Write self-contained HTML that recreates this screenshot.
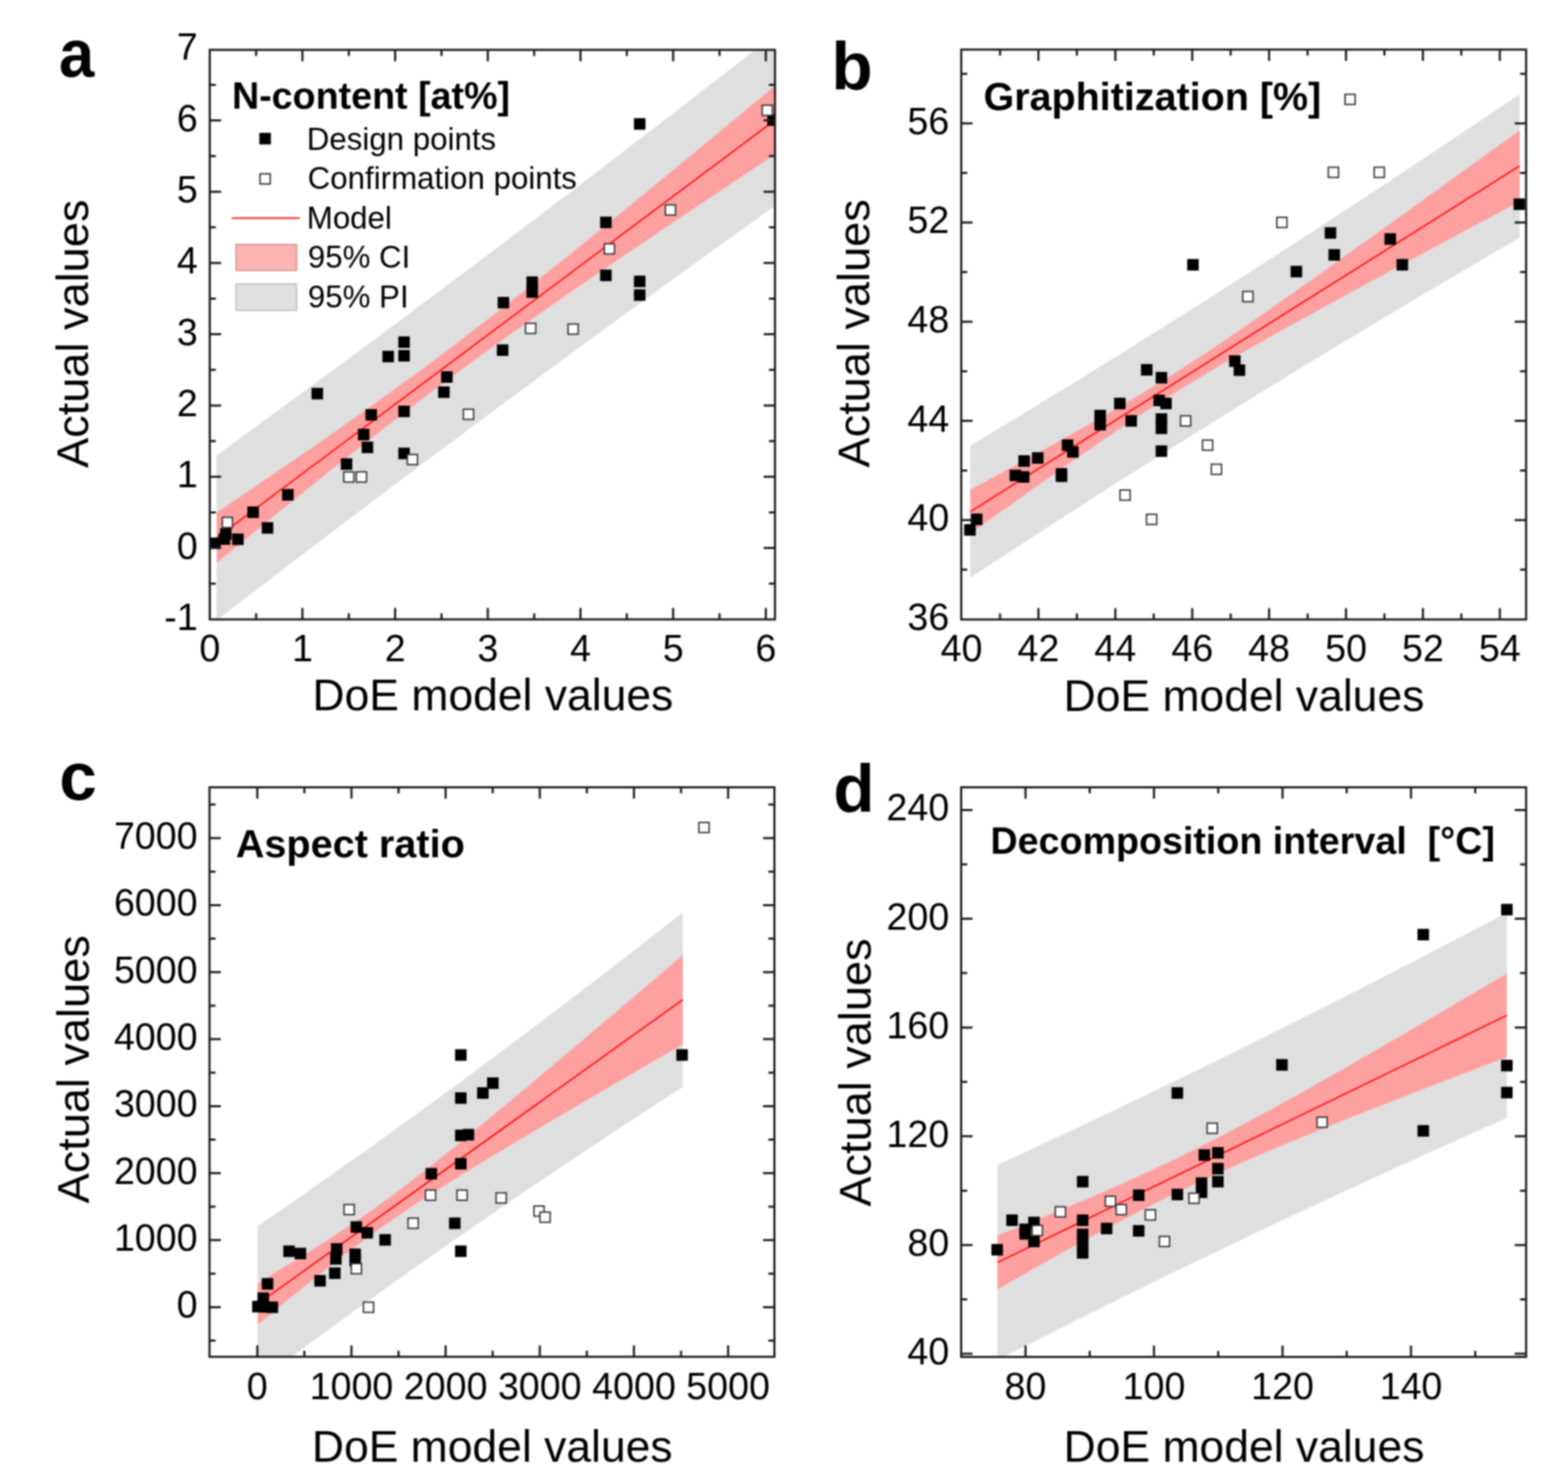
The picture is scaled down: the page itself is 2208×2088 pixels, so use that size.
<!DOCTYPE html>
<html><head><meta charset="utf-8"><title>DoE model vs actual values</title>
<style>html,body{margin:0;padding:0;background:#fff;}svg{display:block;}text{font-family:"Liberation Sans",Arial,sans-serif;fill:#000;}svg{filter:blur(1px);}</style></head><body>
<svg width="2208" height="2088" viewBox="0 0 2208 2088">
<rect width="2208" height="2088" fill="#fff"/>
<clipPath id="ca"><rect x="295.4" y="70.2" width="795.9" height="801.9"/></clipPath>
<g clip-path="url(#ca)">
<polygon points="305,641 318.5,631.2 331.9,621.4 345.4,611.6 358.9,601.8 372.4,591.9 385.8,582.1 399.3,572.2 412.8,562.4 426.3,552.5 439.7,542.6 453.2,532.7 466.7,522.7 480.2,512.8 493.6,502.9 507.1,492.9 520.6,482.9 534.1,472.9 547.5,462.9 561,452.9 574.5,442.9 588,432.8 601.4,422.8 614.9,412.7 628.4,402.6 641.9,392.5 655.3,382.4 668.8,372.3 682.3,362.2 695.8,352 709.2,341.8 722.7,331.7 736.2,321.5 749.7,311.3 763.1,301 776.6,290.8 790.1,280.6 803.6,270.3 817,260 830.5,249.7 844,239.5 857.5,229.1 870.9,218.8 884.4,208.5 897.9,198.1 911.4,187.8 924.8,177.4 938.3,167 951.8,156.6 965.3,146.2 978.7,135.8 992.2,125.3 1005.7,114.9 1019.2,104.4 1032.6,94 1046.1,83.5 1059.6,73 1073.1,62.5 1086.5,52 1100,41.5 1100,283.6 1086.5,293.3 1073.1,302.9 1059.6,312.6 1046.1,322.2 1032.6,331.9 1019.2,341.6 1005.7,351.3 992.2,361 978.7,370.7 965.3,380.5 951.8,390.2 938.3,400 924.8,409.7 911.4,419.5 897.9,429.3 884.4,439.1 870.9,448.9 857.5,458.8 844,468.6 830.5,478.5 817,488.4 803.6,498.3 790.1,508.2 776.6,518.1 763.1,528 749.7,537.9 736.2,547.9 722.7,557.8 709.2,567.8 695.8,577.8 682.3,587.8 668.8,597.8 655.3,607.9 641.9,617.9 628.4,628 614.9,638.1 601.4,648.1 588,658.2 574.5,668.4 561,678.5 547.5,688.6 534.1,698.8 520.6,709 507.1,719.1 493.6,729.3 480.2,739.5 466.7,749.8 453.2,760 439.7,770.2 426.3,780.5 412.8,790.8 399.3,801.1 385.8,811.4 372.4,821.7 358.9,832 345.4,842.3 331.9,852.7 318.5,863.1 305,873.4" fill="#dfdfdf"/>
<polygon points="305,721.8 318.5,712.7 331.9,703.6 345.4,694.4 358.9,685.3 372.4,676.1 385.8,666.9 399.3,657.7 412.8,648.5 426.3,639.2 439.7,629.9 453.2,620.5 466.7,611.2 480.2,601.7 493.6,592.3 507.1,582.7 520.6,573.2 534.1,563.5 547.5,553.8 561,544.1 574.5,534.3 588,524.4 601.4,514.4 614.9,504.4 628.4,494.3 641.9,484.1 655.3,473.8 668.8,463.5 682.3,453.1 695.8,442.7 709.2,432.2 722.7,421.6 736.2,411 749.7,400.3 763.1,389.6 776.6,378.8 790.1,368 803.6,357.2 817,346.3 830.5,335.4 844,324.4 857.5,313.5 870.9,302.5 884.4,291.5 897.9,280.4 911.4,269.4 924.8,258.3 938.3,247.3 951.8,236.2 965.3,225.1 978.7,213.9 992.2,202.8 1005.7,191.7 1019.2,180.5 1032.6,169.4 1046.1,158.2 1059.6,147 1073.1,135.9 1086.5,124.7 1100,113.5 1100,211.6 1086.5,220.6 1073.1,229.5 1059.6,238.5 1046.1,247.5 1032.6,256.5 1019.2,265.5 1005.7,274.5 992.2,283.5 978.7,292.6 965.3,301.6 951.8,310.6 938.3,319.7 924.8,328.8 911.4,337.9 897.9,347 884.4,356.1 870.9,365.3 857.5,374.5 844,383.6 830.5,392.9 817,402.1 803.6,411.4 790.1,420.7 776.6,430.1 763.1,439.5 749.7,448.9 736.2,458.4 722.7,467.9 709.2,477.5 695.8,487.1 682.3,496.8 668.8,506.6 655.3,516.4 641.9,526.4 628.4,536.3 614.9,546.4 601.4,556.5 588,566.7 574.5,577 561,587.3 547.5,597.7 534.1,608.2 520.6,618.7 507.1,629.3 493.6,639.9 480.2,650.6 466.7,661.3 453.2,672.1 439.7,682.9 426.3,693.8 412.8,704.7 399.3,715.6 385.8,726.5 372.4,737.5 358.9,748.5 345.4,759.5 331.9,770.5 318.5,781.6 305,792.6" fill="#ffa0a0"/>
<line x1="305" y1="757.2" x2="1100" y2="162.5" stroke="#ff0000" stroke-width="1.9"/>
<rect x="892.7" y="166.4" width="16.2" height="16.2" fill="#000"/>
<rect x="1080.4" y="161" width="16.2" height="16.2" fill="#000"/>
<rect x="845.1" y="305" width="16.2" height="16.2" fill="#000"/>
<rect x="845.1" y="379.6" width="16.2" height="16.2" fill="#000"/>
<rect x="892.7" y="388.1" width="16.2" height="16.2" fill="#000"/>
<rect x="892.7" y="407.3" width="16.2" height="16.2" fill="#000"/>
<rect x="741.3" y="389.2" width="16.2" height="16.2" fill="#000"/>
<rect x="741.3" y="403.1" width="16.2" height="16.2" fill="#000"/>
<rect x="700.8" y="418" width="16.2" height="16.2" fill="#000"/>
<rect x="560.9" y="473.6" width="16.2" height="16.2" fill="#000"/>
<rect x="560.9" y="492.8" width="16.2" height="16.2" fill="#000"/>
<rect x="538.5" y="493.9" width="16.2" height="16.2" fill="#000"/>
<rect x="438.7" y="546.1" width="16.2" height="16.2" fill="#000"/>
<rect x="621.2" y="522.7" width="16.2" height="16.2" fill="#000"/>
<rect x="617" y="544" width="16.2" height="16.2" fill="#000"/>
<rect x="560.9" y="571.1" width="16.2" height="16.2" fill="#000"/>
<rect x="514.6" y="576" width="16.2" height="16.2" fill="#000"/>
<rect x="504" y="603.7" width="16.2" height="16.2" fill="#000"/>
<rect x="509.3" y="621.8" width="16.2" height="16.2" fill="#000"/>
<rect x="560.9" y="630.3" width="16.2" height="16.2" fill="#000"/>
<rect x="479.9" y="645.3" width="16.2" height="16.2" fill="#000"/>
<rect x="397.3" y="688.6" width="16.2" height="16.2" fill="#000"/>
<rect x="348.3" y="713.1" width="16.2" height="16.2" fill="#000"/>
<rect x="368.6" y="735.2" width="16.2" height="16.2" fill="#000"/>
<rect x="309.9" y="743.9" width="16.2" height="16.2" fill="#000"/>
<rect x="326.9" y="751.2" width="16.2" height="16.2" fill="#000"/>
<rect x="294.4" y="756.9" width="16.2" height="16.2" fill="#000"/>
<rect x="307.9" y="750.9" width="16.2" height="16.2" fill="#000"/>
<rect x="699.7" y="484.9" width="16.2" height="16.2" fill="#000"/>
<rect x="1073.3" y="148.2" width="14.3" height="14.3" fill="#fff" stroke="#333" stroke-width="2"/>
<rect x="936.9" y="288.5" width="14.3" height="14.3" fill="#fff" stroke="#333" stroke-width="2"/>
<rect x="851" y="343.2" width="14.3" height="14.3" fill="#fff" stroke="#333" stroke-width="2"/>
<rect x="740.1" y="455.2" width="14.3" height="14.3" fill="#fff" stroke="#333" stroke-width="2"/>
<rect x="799.9" y="456.2" width="14.3" height="14.3" fill="#fff" stroke="#333" stroke-width="2"/>
<rect x="652.5" y="576.2" width="14.3" height="14.3" fill="#fff" stroke="#333" stroke-width="2"/>
<rect x="573.6" y="639.9" width="14.3" height="14.3" fill="#fff" stroke="#333" stroke-width="2"/>
<rect x="484.1" y="664.4" width="14.3" height="14.3" fill="#fff" stroke="#333" stroke-width="2"/>
<rect x="501.8" y="664.4" width="14.3" height="14.3" fill="#fff" stroke="#333" stroke-width="2"/>
<rect x="313.1" y="728.4" width="14.3" height="14.3" fill="#fff" stroke="#333" stroke-width="2"/>
</g>
<path d="M360.7 872.1v-8.5M360.7 70.2v8.5M425.9 872.1v-16M425.9 70.2v16M491.2 872.1v-8.5M491.2 70.2v8.5M556.4 872.1v-16M556.4 70.2v16M621.7 872.1v-8.5M621.7 70.2v8.5M686.9 872.1v-16M686.9 70.2v16M752.2 872.1v-8.5M752.2 70.2v8.5M817.4 872.1v-16M817.4 70.2v16M882.7 872.1v-8.5M882.7 70.2v8.5M947.9 872.1v-16M947.9 70.2v16M1013.2 872.1v-8.5M1013.2 70.2v8.5M1078.4 872.1v-16M1078.4 70.2v16M295.4 821.7h8.5M1091.3 821.7h-8.5M295.4 771.6h16M1091.3 771.6h-16M295.4 721.4h8.5M1091.3 721.4h-8.5M295.4 671.2h16M1091.3 671.2h-16M295.4 621.1h8.5M1091.3 621.1h-8.5M295.4 570.9h16M1091.3 570.9h-16M295.4 520.7h8.5M1091.3 520.7h-8.5M295.4 470.6h16M1091.3 470.6h-16M295.4 420.4h8.5M1091.3 420.4h-8.5M295.4 370.3h16M1091.3 370.3h-16M295.4 320.1h8.5M1091.3 320.1h-8.5M295.4 269.9h16M1091.3 269.9h-16M295.4 219.8h8.5M1091.3 219.8h-8.5M295.4 169.6h16M1091.3 169.6h-16M295.4 119.5h8.5M1091.3 119.5h-8.5" stroke="#1c1c1c" stroke-width="3.0" fill="none"/>
<rect x="295.4" y="70.2" width="795.9" height="801.9" fill="none" stroke="#1c1c1c" stroke-width="3.0"/>
<text x="295.4" y="930.5" font-size="53" font-weight="normal" text-anchor="middle">0</text>
<text x="425.9" y="930.5" font-size="53" font-weight="normal" text-anchor="middle">1</text>
<text x="556.4" y="930.5" font-size="53" font-weight="normal" text-anchor="middle">2</text>
<text x="686.9" y="930.5" font-size="53" font-weight="normal" text-anchor="middle">3</text>
<text x="817.4" y="930.5" font-size="53" font-weight="normal" text-anchor="middle">4</text>
<text x="947.9" y="930.5" font-size="53" font-weight="normal" text-anchor="middle">5</text>
<text x="1078.4" y="930.5" font-size="53" font-weight="normal" text-anchor="middle">6</text>
<text x="278.5" y="886.9" font-size="53" font-weight="normal" text-anchor="end">-1</text>
<text x="278.5" y="786.6" font-size="53" font-weight="normal" text-anchor="end">0</text>
<text x="278.5" y="686.2" font-size="53" font-weight="normal" text-anchor="end">1</text>
<text x="278.5" y="585.9" font-size="53" font-weight="normal" text-anchor="end">2</text>
<text x="278.5" y="485.6" font-size="53" font-weight="normal" text-anchor="end">3</text>
<text x="278.5" y="385.3" font-size="53" font-weight="normal" text-anchor="end">4</text>
<text x="278.5" y="284.9" font-size="53" font-weight="normal" text-anchor="end">5</text>
<text x="278.5" y="184.6" font-size="53" font-weight="normal" text-anchor="end">6</text>
<text x="278.5" y="84.3" font-size="53" font-weight="normal" text-anchor="end">7</text>
<text x="694.1" y="1000" font-size="62.6" font-weight="normal" text-anchor="middle">DoE model values</text>
<text x="123.8" y="469.9" font-size="63.5" font-weight="normal" text-anchor="middle" transform="rotate(-90 123.8 469.9)">Actual values</text>
<text x="326.7" y="152.9" font-size="53" font-weight="bold" text-anchor="start">N-content [at%]</text>
<text x="82.9" y="107.6" font-size="95" font-weight="bold" text-anchor="start" textLength="49.7" lengthAdjust="spacingAndGlyphs">a</text>
<clipPath id="cb"><rect x="1353.6" y="69.8" width="795.4" height="802.4"/></clipPath>
<g clip-path="url(#cb)">
<polygon points="1366.2,627.5 1379.3,619.6 1392.4,611.7 1405.5,603.8 1418.7,595.9 1431.8,587.9 1444.9,580 1458,572 1471.1,564 1484.2,556 1497.4,547.9 1510.5,539.9 1523.6,531.8 1536.7,523.7 1549.8,515.6 1562.9,507.5 1576,499.4 1589.2,491.2 1602.3,483 1615.4,474.8 1628.5,466.6 1641.6,458.4 1654.7,450.1 1667.9,441.8 1681,433.5 1694.1,425.2 1707.2,416.9 1720.3,408.6 1733.4,400.2 1746.5,391.8 1759.7,383.4 1772.8,375 1785.9,366.6 1799,358.1 1812.1,349.6 1825.2,341.1 1838.3,332.6 1851.5,324.1 1864.6,315.6 1877.7,307 1890.8,298.4 1903.9,289.8 1917,281.2 1930.2,272.6 1943.3,264 1956.4,255.3 1969.5,246.6 1982.6,237.9 1995.7,229.2 2008.8,220.5 2022,211.8 2035.1,203 2048.2,194.3 2061.3,185.5 2074.4,176.7 2087.5,167.9 2100.7,159.1 2113.8,150.2 2126.9,141.4 2140,132.5 2140,334.6 2126.9,342.2 2113.8,349.9 2100.7,357.5 2087.5,365.2 2074.4,372.9 2061.3,380.6 2048.2,388.4 2035.1,396.1 2022,403.9 2008.8,411.6 1995.7,419.4 1982.6,427.2 1969.5,435.1 1956.4,442.9 1943.3,450.7 1930.2,458.6 1917,466.5 1903.9,474.4 1890.8,482.3 1877.7,490.2 1864.6,498.2 1851.5,506.1 1838.3,514.1 1825.2,522.1 1812.1,530.1 1799,538.2 1785.9,546.2 1772.8,554.3 1759.7,562.4 1746.5,570.5 1733.4,578.6 1720.3,586.7 1707.2,594.9 1694.1,603.1 1681,611.3 1667.9,619.5 1654.7,627.7 1641.6,636 1628.5,644.3 1615.4,652.6 1602.3,660.9 1589.2,669.2 1576,677.5 1562.9,685.9 1549.8,694.3 1536.7,702.7 1523.6,711.1 1510.5,719.5 1497.4,728 1484.2,736.5 1471.1,745 1458,753.5 1444.9,762 1431.8,770.5 1418.7,779.1 1405.5,787.7 1392.4,796.3 1379.3,804.9 1366.2,813.5" fill="#dfdfdf"/>
<polygon points="1366.2,689.6 1379.3,682.5 1392.4,675.3 1405.5,668.2 1418.7,661 1431.8,653.9 1444.9,646.7 1458,639.5 1471.1,632.2 1484.2,624.9 1497.4,617.6 1510.5,610.3 1523.6,602.9 1536.7,595.5 1549.8,588 1562.9,580.4 1576,572.8 1589.2,565.1 1602.3,557.2 1615.4,549.3 1628.5,541.3 1641.6,533.2 1654.7,524.9 1667.9,516.5 1681,508.1 1694.1,499.5 1707.2,490.8 1720.3,482 1733.4,473.1 1746.5,464.2 1759.7,455.1 1772.8,446.1 1785.9,437 1799,427.8 1812.1,418.6 1825.2,409.3 1838.3,400.1 1851.5,390.8 1864.6,381.5 1877.7,372.1 1890.8,362.8 1903.9,353.4 1917,344.1 1930.2,334.7 1943.3,325.3 1956.4,315.8 1969.5,306.4 1982.6,297 1995.7,287.6 2008.8,278.1 2022,268.7 2035.1,259.2 2048.2,249.8 2061.3,240.3 2074.4,230.8 2087.5,221.4 2100.7,211.9 2113.8,202.4 2126.9,192.9 2140,183.4 2140,283.7 2126.9,290.7 2113.8,297.7 2100.7,304.7 2087.5,311.8 2074.4,318.8 2061.3,325.8 2048.2,332.9 2035.1,339.9 2022,347 2008.8,354 1995.7,361.1 1982.6,368.2 1969.5,375.3 1956.4,382.3 1943.3,389.4 1930.2,396.5 1917,403.7 1903.9,410.8 1890.8,417.9 1877.7,425.1 1864.6,432.3 1851.5,439.5 1838.3,446.7 1825.2,453.9 1812.1,461.2 1799,468.5 1785.9,475.8 1772.8,483.2 1759.7,490.7 1746.5,498.1 1733.4,505.7 1720.3,513.3 1707.2,521.1 1694.1,528.9 1681,536.8 1667.9,544.8 1654.7,552.9 1641.6,561.2 1628.5,569.6 1615.4,578 1602.3,586.6 1589.2,595.3 1576,604.1 1562.9,613 1549.8,621.9 1536.7,630.9 1523.6,640 1510.5,649.1 1497.4,658.3 1484.2,667.5 1471.1,676.7 1458,686 1444.9,695.3 1431.8,704.6 1418.7,713.9 1405.5,723.3 1392.4,732.6 1379.3,742 1366.2,751.4" fill="#ffa0a0"/>
<line x1="1366.2" y1="720.5" x2="2140" y2="233.5" stroke="#ff0000" stroke-width="1.9"/>
<rect x="1671.8" y="364.7" width="16.2" height="16.2" fill="#000"/>
<rect x="1865.4" y="319.9" width="16.2" height="16.2" fill="#000"/>
<rect x="1870.7" y="350.8" width="16.2" height="16.2" fill="#000"/>
<rect x="1817.4" y="374.3" width="16.2" height="16.2" fill="#000"/>
<rect x="1949.6" y="328.4" width="16.2" height="16.2" fill="#000"/>
<rect x="1966.6" y="364.7" width="16.2" height="16.2" fill="#000"/>
<rect x="2131.4" y="279.4" width="16.2" height="16.2" fill="#000"/>
<rect x="1606.7" y="512.6" width="16.2" height="16.2" fill="#000"/>
<rect x="1627.4" y="523.7" width="16.2" height="16.2" fill="#000"/>
<rect x="1730.8" y="500.3" width="16.2" height="16.2" fill="#000"/>
<rect x="1737.2" y="513.1" width="16.2" height="16.2" fill="#000"/>
<rect x="1624.2" y="555.7" width="16.2" height="16.2" fill="#000"/>
<rect x="1633.8" y="560" width="16.2" height="16.2" fill="#000"/>
<rect x="1568.8" y="560" width="16.2" height="16.2" fill="#000"/>
<rect x="1584.8" y="584.5" width="16.2" height="16.2" fill="#000"/>
<rect x="1541.1" y="577" width="16.2" height="16.2" fill="#000"/>
<rect x="1541.1" y="589.8" width="16.2" height="16.2" fill="#000"/>
<rect x="1627.4" y="581.9" width="16.2" height="16.2" fill="#000"/>
<rect x="1627.4" y="594.9" width="16.2" height="16.2" fill="#000"/>
<rect x="1627.4" y="627.1" width="16.2" height="16.2" fill="#000"/>
<rect x="1495.2" y="618.6" width="16.2" height="16.2" fill="#000"/>
<rect x="1502.7" y="628.2" width="16.2" height="16.2" fill="#000"/>
<rect x="1453.2" y="636.7" width="16.2" height="16.2" fill="#000"/>
<rect x="1434" y="641" width="16.2" height="16.2" fill="#000"/>
<rect x="1421.7" y="661.3" width="16.2" height="16.2" fill="#000"/>
<rect x="1433.4" y="663.4" width="16.2" height="16.2" fill="#000"/>
<rect x="1486.7" y="659.1" width="16.2" height="16.2" fill="#000"/>
<rect x="1486.7" y="662.4" width="16.2" height="16.2" fill="#000"/>
<rect x="1367.3" y="723.1" width="16.2" height="16.2" fill="#000"/>
<rect x="1357.7" y="738" width="16.2" height="16.2" fill="#000"/>
<rect x="1894" y="132.8" width="14.3" height="14.3" fill="#fff" stroke="#333" stroke-width="2"/>
<rect x="1870.5" y="235.5" width="14.3" height="14.3" fill="#fff" stroke="#333" stroke-width="2"/>
<rect x="1935.1" y="235.5" width="14.3" height="14.3" fill="#fff" stroke="#333" stroke-width="2"/>
<rect x="1798" y="306" width="14.3" height="14.3" fill="#fff" stroke="#333" stroke-width="2"/>
<rect x="1750.1" y="410.4" width="14.3" height="14.3" fill="#fff" stroke="#333" stroke-width="2"/>
<rect x="1662.4" y="585.5" width="14.3" height="14.3" fill="#fff" stroke="#333" stroke-width="2"/>
<rect x="1693.3" y="619.6" width="14.3" height="14.3" fill="#fff" stroke="#333" stroke-width="2"/>
<rect x="1705.8" y="653.6" width="14.3" height="14.3" fill="#fff" stroke="#333" stroke-width="2"/>
<rect x="1577.1" y="690" width="14.3" height="14.3" fill="#fff" stroke="#333" stroke-width="2"/>
<rect x="1614.5" y="724.1" width="14.3" height="14.3" fill="#fff" stroke="#333" stroke-width="2"/>
</g>
<path d="M1408.2 872.2v-8.5M1408.2 69.8v8.5M1462.3 872.2v-16M1462.3 69.8v16M1516.4 872.2v-8.5M1516.4 69.8v8.5M1570.6 872.2v-16M1570.6 69.8v16M1624.7 872.2v-8.5M1624.7 69.8v8.5M1678.9 872.2v-16M1678.9 69.8v16M1733 872.2v-8.5M1733 69.8v8.5M1787.1 872.2v-16M1787.1 69.8v16M1841.3 872.2v-8.5M1841.3 69.8v8.5M1895.4 872.2v-16M1895.4 69.8v16M1949.5 872.2v-8.5M1949.5 69.8v8.5M2003.7 872.2v-16M2003.7 69.8v16M2057.8 872.2v-8.5M2057.8 69.8v8.5M2112 872.2v-16M2112 69.8v16M1353.6 802h8.5M2149 802h-8.5M1353.6 732.2h16M2149 732.2h-16M1353.6 662.4h8.5M2149 662.4h-8.5M1353.6 592.6h16M2149 592.6h-16M1353.6 522.7h8.5M2149 522.7h-8.5M1353.6 452.9h16M2149 452.9h-16M1353.6 383.1h8.5M2149 383.1h-8.5M1353.6 313.3h16M2149 313.3h-16M1353.6 243.5h8.5M2149 243.5h-8.5M1353.6 173.7h16M2149 173.7h-16M1353.6 103.9h8.5M2149 103.9h-8.5" stroke="#1c1c1c" stroke-width="3.0" fill="none"/>
<rect x="1353.6" y="69.8" width="795.4" height="802.4" fill="none" stroke="#1c1c1c" stroke-width="3.0"/>
<text x="1354" y="930.8" font-size="53" font-weight="normal" text-anchor="middle">40</text>
<text x="1462.3" y="930.8" font-size="53" font-weight="normal" text-anchor="middle">42</text>
<text x="1570.6" y="930.8" font-size="53" font-weight="normal" text-anchor="middle">44</text>
<text x="1678.9" y="930.8" font-size="53" font-weight="normal" text-anchor="middle">46</text>
<text x="1787.1" y="930.8" font-size="53" font-weight="normal" text-anchor="middle">48</text>
<text x="1895.4" y="930.8" font-size="53" font-weight="normal" text-anchor="middle">50</text>
<text x="2003.7" y="930.8" font-size="53" font-weight="normal" text-anchor="middle">52</text>
<text x="2112" y="930.8" font-size="53" font-weight="normal" text-anchor="middle">54</text>
<text x="1336.8" y="886.8" font-size="53" font-weight="normal" text-anchor="end">36</text>
<text x="1336.8" y="747.2" font-size="53" font-weight="normal" text-anchor="end">40</text>
<text x="1336.8" y="607.6" font-size="53" font-weight="normal" text-anchor="end">44</text>
<text x="1336.8" y="467.9" font-size="53" font-weight="normal" text-anchor="end">48</text>
<text x="1336.8" y="328.3" font-size="53" font-weight="normal" text-anchor="end">52</text>
<text x="1336.8" y="188.7" font-size="53" font-weight="normal" text-anchor="end">56</text>
<text x="1751.8" y="1000.5" font-size="62.6" font-weight="normal" text-anchor="middle">DoE model values</text>
<text x="1224.2" y="469.3" font-size="63.5" font-weight="normal" text-anchor="middle" transform="rotate(-90 1224.2 469.3)">Actual values</text>
<text x="1384.9" y="155.3" font-size="55.6" font-weight="bold" text-anchor="start">Graphitization [%]</text>
<text x="1170.8" y="125.6" font-size="95" font-weight="bold" text-anchor="start">b</text>
<clipPath id="cc"><rect x="295" y="1108.5" width="795.5" height="801.8"/></clipPath>
<g clip-path="url(#cc)">
<polygon points="362.8,1726.3 372.9,1719.4 383.1,1712.4 393.2,1705.4 403.4,1698.4 413.5,1691.3 423.7,1684.3 433.8,1677.2 444,1670.1 454.1,1663 464.3,1655.9 474.4,1648.7 484.6,1641.6 494.7,1634.4 504.9,1627.2 515,1620 525.2,1612.7 535.3,1605.5 545.5,1598.2 555.6,1590.9 565.7,1583.6 575.9,1576.3 586,1568.9 596.2,1561.5 606.3,1554.1 616.5,1546.7 626.6,1539.3 636.8,1531.9 646.9,1524.4 657.1,1516.9 667.2,1509.4 677.4,1501.9 687.5,1494.3 697.7,1486.8 707.8,1479.2 718,1471.6 728.1,1464 738.3,1456.4 748.4,1448.7 758.6,1441.1 768.7,1433.4 778.8,1425.7 789,1418 799.1,1410.3 809.3,1402.5 819.4,1394.8 829.6,1387 839.7,1379.2 849.9,1371.4 860,1363.6 870.2,1355.7 880.3,1347.9 890.5,1340 900.6,1332.2 910.8,1324.3 920.9,1316.4 931.1,1308.4 941.2,1300.5 951.4,1292.6 961.5,1284.6 961.5,1530.4 951.4,1537 941.2,1543.6 931.1,1550.1 920.9,1556.8 910.8,1563.4 900.6,1570 890.5,1576.7 880.3,1583.3 870.2,1590 860,1596.7 849.9,1603.4 839.7,1610.1 829.6,1616.9 819.4,1623.6 809.3,1630.4 799.1,1637.2 789,1644 778.8,1650.8 768.7,1657.6 758.6,1664.4 748.4,1671.3 738.3,1678.2 728.1,1685.1 718,1692 707.8,1698.9 697.7,1705.9 687.5,1712.9 677.4,1719.8 667.2,1726.9 657.1,1733.9 646.9,1740.9 636.8,1748 626.6,1755.1 616.5,1762.1 606.3,1769.3 596.2,1776.4 586,1783.5 575.9,1790.7 565.7,1797.9 555.6,1805.1 545.5,1812.3 535.3,1819.6 525.2,1826.9 515,1834.1 504.9,1841.5 494.7,1848.8 484.6,1856.1 474.4,1863.5 464.3,1870.9 454.1,1878.3 444,1885.7 433.8,1893.1 423.7,1900.6 413.5,1908 403.4,1915.5 393.2,1923 383.1,1930.6 372.9,1938.1 362.8,1945.7" fill="#dfdfdf"/>
<polygon points="362.8,1806.7 372.9,1800.6 383.1,1794.5 393.2,1788.3 403.4,1782.1 413.5,1775.9 423.7,1769.6 433.8,1763.2 444,1756.8 454.1,1750.4 464.3,1743.9 474.4,1737.3 484.6,1730.6 494.7,1723.8 504.9,1716.9 515,1709.9 525.2,1702.8 535.3,1695.5 545.5,1688.2 555.6,1680.7 565.7,1673.1 575.9,1665.4 586,1657.6 596.2,1649.7 606.3,1641.8 616.5,1633.7 626.6,1625.6 636.8,1617.4 646.9,1609.2 657.1,1601 667.2,1592.7 677.4,1584.3 687.5,1575.9 697.7,1567.5 707.8,1559.1 718,1550.7 728.1,1542.2 738.3,1533.7 748.4,1525.2 758.6,1516.7 768.7,1508.2 778.8,1499.6 789,1491.1 799.1,1482.5 809.3,1474 819.4,1465.4 829.6,1456.8 839.7,1448.2 849.9,1439.6 860,1431 870.2,1422.4 880.3,1413.8 890.5,1405.2 900.6,1396.6 910.8,1388 920.9,1379.3 931.1,1370.7 941.2,1362.1 951.4,1353.5 961.5,1344.8 961.5,1470.2 951.4,1476.1 941.2,1482 931.1,1487.9 920.9,1493.8 910.8,1499.7 900.6,1505.6 890.5,1511.5 880.3,1517.4 870.2,1523.3 860,1529.2 849.9,1535.2 839.7,1541.1 829.6,1547 819.4,1553 809.3,1558.9 799.1,1564.9 789,1570.9 778.8,1576.8 768.7,1582.8 758.6,1588.8 748.4,1594.8 738.3,1600.9 728.1,1606.9 718,1613 707.8,1619 697.7,1625.1 687.5,1631.3 677.4,1637.4 667.2,1643.6 657.1,1649.8 646.9,1656.1 636.8,1662.4 626.6,1668.7 616.5,1675.2 606.3,1681.6 596.2,1688.2 586,1694.8 575.9,1701.6 565.7,1708.4 555.6,1715.3 545.5,1722.4 535.3,1729.5 525.2,1736.8 515,1744.2 504.9,1751.8 494.7,1759.4 484.6,1767.1 474.4,1775 464.3,1782.9 454.1,1790.9 444,1799 433.8,1807.1 423.7,1815.3 413.5,1823.5 403.4,1831.8 393.2,1840.1 383.1,1848.5 372.9,1856.9 362.8,1865.3" fill="#ffa0a0"/>
<line x1="362.8" y1="1836" x2="961.5" y2="1407.5" stroke="#ff0000" stroke-width="1.9"/>
<rect x="640.8" y="1477.3" width="16.2" height="16.2" fill="#000"/>
<rect x="952.4" y="1477.3" width="16.2" height="16.2" fill="#000"/>
<rect x="640.8" y="1537.9" width="16.2" height="16.2" fill="#000"/>
<rect x="671.8" y="1530.8" width="16.2" height="16.2" fill="#000"/>
<rect x="685.9" y="1516.9" width="16.2" height="16.2" fill="#000"/>
<rect x="640.8" y="1590.5" width="16.2" height="16.2" fill="#000"/>
<rect x="651.5" y="1589.5" width="16.2" height="16.2" fill="#000"/>
<rect x="640.8" y="1630.4" width="16.2" height="16.2" fill="#000"/>
<rect x="599.3" y="1644.5" width="16.2" height="16.2" fill="#000"/>
<rect x="632.3" y="1714.2" width="16.2" height="16.2" fill="#000"/>
<rect x="493.7" y="1719.5" width="16.2" height="16.2" fill="#000"/>
<rect x="509.1" y="1727.6" width="16.2" height="16.2" fill="#000"/>
<rect x="534.2" y="1737.6" width="16.2" height="16.2" fill="#000"/>
<rect x="398.9" y="1753.6" width="16.2" height="16.2" fill="#000"/>
<rect x="414.9" y="1756.8" width="16.2" height="16.2" fill="#000"/>
<rect x="466" y="1750.4" width="16.2" height="16.2" fill="#000"/>
<rect x="464.9" y="1764.3" width="16.2" height="16.2" fill="#000"/>
<rect x="492" y="1757.9" width="16.2" height="16.2" fill="#000"/>
<rect x="492" y="1766.9" width="16.2" height="16.2" fill="#000"/>
<rect x="640.8" y="1753.6" width="16.2" height="16.2" fill="#000"/>
<rect x="463.4" y="1784.5" width="16.2" height="16.2" fill="#000"/>
<rect x="442.6" y="1795.2" width="16.2" height="16.2" fill="#000"/>
<rect x="368.6" y="1799.5" width="16.2" height="16.2" fill="#000"/>
<rect x="362.6" y="1819.7" width="16.2" height="16.2" fill="#000"/>
<rect x="355.1" y="1831.5" width="16.2" height="16.2" fill="#000"/>
<rect x="375.4" y="1832.5" width="16.2" height="16.2" fill="#000"/>
<rect x="363.9" y="1831.9" width="16.2" height="16.2" fill="#000"/>
<rect x="984.2" y="1157.9" width="14.3" height="14.3" fill="#fff" stroke="#333" stroke-width="2"/>
<rect x="599.1" y="1675.6" width="14.3" height="14.3" fill="#fff" stroke="#333" stroke-width="2"/>
<rect x="643.5" y="1675.6" width="14.3" height="14.3" fill="#fff" stroke="#333" stroke-width="2"/>
<rect x="698.6" y="1679.5" width="14.3" height="14.3" fill="#fff" stroke="#333" stroke-width="2"/>
<rect x="751.9" y="1698" width="14.3" height="14.3" fill="#fff" stroke="#333" stroke-width="2"/>
<rect x="760.4" y="1706.6" width="14.3" height="14.3" fill="#fff" stroke="#333" stroke-width="2"/>
<rect x="484.5" y="1695.9" width="14.3" height="14.3" fill="#fff" stroke="#333" stroke-width="2"/>
<rect x="574.6" y="1715.1" width="14.3" height="14.3" fill="#fff" stroke="#333" stroke-width="2"/>
<rect x="494.7" y="1779.1" width="14.3" height="14.3" fill="#fff" stroke="#333" stroke-width="2"/>
<rect x="511.8" y="1833.4" width="14.3" height="14.3" fill="#fff" stroke="#333" stroke-width="2"/>
</g>
<path d="M362.3 1910.3v-16M362.3 1108.5v16M428.6 1910.3v-8.5M428.6 1108.5v8.5M494.9 1910.3v-16M494.9 1108.5v16M561.2 1910.3v-8.5M561.2 1108.5v8.5M627.5 1910.3v-16M627.5 1108.5v16M693.8 1910.3v-8.5M693.8 1108.5v8.5M760.1 1910.3v-16M760.1 1108.5v16M826.4 1910.3v-8.5M826.4 1108.5v8.5M892.7 1910.3v-16M892.7 1108.5v16M959 1910.3v-8.5M959 1108.5v8.5M1025.3 1910.3v-16M1025.3 1108.5v16M295 1887.6h8.5M1090.5 1887.6h-8.5M295 1840.4h16M1090.5 1840.4h-16M295 1793.2h8.5M1090.5 1793.2h-8.5M295 1746.1h16M1090.5 1746.1h-16M295 1698.9h8.5M1090.5 1698.9h-8.5M295 1651.7h16M1090.5 1651.7h-16M295 1604.5h8.5M1090.5 1604.5h-8.5M295 1557.4h16M1090.5 1557.4h-16M295 1510.2h8.5M1090.5 1510.2h-8.5M295 1463h16M1090.5 1463h-16M295 1415.9h8.5M1090.5 1415.9h-8.5M295 1368.7h16M1090.5 1368.7h-16M295 1321.5h8.5M1090.5 1321.5h-8.5M295 1274.4h16M1090.5 1274.4h-16M295 1227.2h8.5M1090.5 1227.2h-8.5M295 1180h16M1090.5 1180h-16M295 1132.8h8.5M1090.5 1132.8h-8.5" stroke="#1c1c1c" stroke-width="3.0" fill="none"/>
<rect x="295" y="1108.5" width="795.5" height="801.8" fill="none" stroke="#1c1c1c" stroke-width="3.0"/>
<text x="362.3" y="1969.5" font-size="53" font-weight="normal" text-anchor="middle">0</text>
<text x="494.9" y="1969.5" font-size="53" font-weight="normal" text-anchor="middle">1000</text>
<text x="627.5" y="1969.5" font-size="53" font-weight="normal" text-anchor="middle">2000</text>
<text x="760.1" y="1969.5" font-size="53" font-weight="normal" text-anchor="middle">3000</text>
<text x="892.7" y="1969.5" font-size="53" font-weight="normal" text-anchor="middle">4000</text>
<text x="1025.3" y="1969.5" font-size="53" font-weight="normal" text-anchor="middle">5000</text>
<text x="278.3" y="1855.4" font-size="53" font-weight="normal" text-anchor="end">0</text>
<text x="278.3" y="1761.1" font-size="53" font-weight="normal" text-anchor="end">1000</text>
<text x="278.3" y="1666.7" font-size="53" font-weight="normal" text-anchor="end">2000</text>
<text x="278.3" y="1572.4" font-size="53" font-weight="normal" text-anchor="end">3000</text>
<text x="278.3" y="1478" font-size="53" font-weight="normal" text-anchor="end">4000</text>
<text x="278.3" y="1383.7" font-size="53" font-weight="normal" text-anchor="end">5000</text>
<text x="278.3" y="1289.4" font-size="53" font-weight="normal" text-anchor="end">6000</text>
<text x="278.3" y="1195" font-size="53" font-weight="normal" text-anchor="end">7000</text>
<text x="693.2" y="2058.3" font-size="62.6" font-weight="normal" text-anchor="middle">DoE model values</text>
<text x="125" y="1505.5" font-size="63.5" font-weight="normal" text-anchor="middle" transform="rotate(-90 125 1505.5)">Actual values</text>
<text x="332" y="1207.1" font-size="55.8" font-weight="bold" text-anchor="start">Aspect ratio</text>
<text x="83.4" y="1125.8" font-size="95" font-weight="bold" text-anchor="start">c</text>
<clipPath id="cd"><rect x="1353.5" y="1108.5" width="795.5" height="802"/></clipPath>
<g clip-path="url(#cd)">
<polygon points="1404.6,1640.2 1416.8,1634.6 1428.9,1628.9 1441.1,1623.3 1453.2,1617.7 1465.4,1612 1477.5,1606.3 1489.7,1600.6 1501.9,1594.9 1514,1589.2 1526.2,1583.5 1538.3,1577.7 1550.5,1571.9 1562.6,1566.2 1574.8,1560.4 1587,1554.6 1599.1,1548.7 1611.3,1542.9 1623.4,1537.1 1635.6,1531.2 1647.8,1525.3 1659.9,1519.4 1672.1,1513.5 1684.2,1507.6 1696.4,1501.7 1708.5,1495.7 1720.7,1489.7 1732.9,1483.8 1745,1477.8 1757.2,1471.7 1769.3,1465.7 1781.5,1459.7 1793.6,1453.6 1805.8,1447.6 1818,1441.5 1830.1,1435.4 1842.3,1429.3 1854.4,1423.1 1866.6,1417 1878.7,1410.8 1890.9,1404.7 1903.1,1398.5 1915.2,1392.3 1927.4,1386.1 1939.5,1379.9 1951.7,1373.6 1963.9,1367.4 1976,1361.1 1988.2,1354.9 2000.3,1348.6 2012.5,1342.3 2024.6,1336 2036.8,1329.6 2049,1323.3 2061.1,1316.9 2073.3,1310.6 2085.4,1304.2 2097.6,1297.8 2109.7,1291.4 2121.9,1285 2121.9,1573.9 2109.7,1579.3 2097.6,1584.7 2085.4,1590.1 2073.3,1595.5 2061.1,1601 2049,1606.4 2036.8,1611.9 2024.6,1617.4 2012.5,1622.8 2000.3,1628.3 1988.2,1633.9 1976,1639.4 1963.9,1644.9 1951.7,1650.5 1939.5,1656 1927.4,1661.6 1915.2,1667.2 1903.1,1672.8 1890.9,1678.4 1878.7,1684 1866.6,1689.7 1854.4,1695.3 1842.3,1701 1830.1,1706.7 1818,1712.4 1805.8,1718.1 1793.6,1723.8 1781.5,1729.6 1769.3,1735.3 1757.2,1741.1 1745,1746.9 1732.9,1752.7 1720.7,1758.5 1708.5,1764.4 1696.4,1770.2 1684.2,1776.1 1672.1,1781.9 1659.9,1787.8 1647.8,1793.7 1635.6,1799.6 1623.4,1805.6 1611.3,1811.5 1599.1,1817.5 1587,1823.5 1574.8,1829.5 1562.6,1835.5 1550.5,1841.5 1538.3,1847.5 1526.2,1853.6 1514,1859.6 1501.9,1865.7 1489.7,1871.8 1477.5,1877.9 1465.4,1884 1453.2,1890.2 1441.1,1896.3 1428.9,1902.5 1416.8,1908.6 1404.6,1914.8" fill="#dfdfdf"/>
<polygon points="1404.6,1739.6 1416.8,1734.8 1428.9,1729.9 1441.1,1725 1453.2,1720.1 1465.4,1715.2 1477.5,1710.2 1489.7,1705.2 1501.9,1700.2 1514,1695.1 1526.2,1690 1538.3,1684.8 1550.5,1679.5 1562.6,1674.3 1574.8,1668.9 1587,1663.5 1599.1,1658 1611.3,1652.4 1623.4,1646.8 1635.6,1641.1 1647.8,1635.3 1659.9,1629.4 1672.1,1623.5 1684.2,1617.4 1696.4,1611.3 1708.5,1605.1 1720.7,1598.9 1732.9,1592.5 1745,1586.1 1757.2,1579.7 1769.3,1573.1 1781.5,1566.5 1793.6,1559.9 1805.8,1553.2 1818,1546.5 1830.1,1539.7 1842.3,1532.9 1854.4,1526.1 1866.6,1519.2 1878.7,1512.3 1890.9,1505.4 1903.1,1498.4 1915.2,1491.5 1927.4,1484.5 1939.5,1477.4 1951.7,1470.4 1963.9,1463.4 1976,1456.3 1988.2,1449.2 2000.3,1442.1 2012.5,1435 2024.6,1427.9 2036.8,1420.8 2049,1413.7 2061.1,1406.6 2073.3,1399.4 2085.4,1392.3 2097.6,1385.1 2109.7,1377.9 2121.9,1370.8 2121.9,1488.2 2109.7,1492.8 2097.6,1497.4 2085.4,1502.1 2073.3,1506.7 2061.1,1511.4 2049,1516 2036.8,1520.7 2024.6,1525.4 2012.5,1530.1 2000.3,1534.8 1988.2,1539.5 1976,1544.2 1963.9,1548.9 1951.7,1553.7 1939.5,1558.5 1927.4,1563.2 1915.2,1568 1903.1,1572.9 1890.9,1577.7 1878.7,1582.6 1866.6,1587.5 1854.4,1592.4 1842.3,1597.4 1830.1,1602.4 1818,1607.4 1805.8,1612.5 1793.6,1617.6 1781.5,1622.7 1769.3,1627.9 1757.2,1633.2 1745,1638.5 1732.9,1643.9 1720.7,1649.4 1708.5,1654.9 1696.4,1660.5 1684.2,1666.2 1672.1,1672 1659.9,1677.8 1647.8,1683.7 1635.6,1689.8 1623.4,1695.8 1611.3,1702 1599.1,1708.2 1587,1714.5 1574.8,1720.9 1562.6,1727.4 1550.5,1733.9 1538.3,1740.4 1526.2,1747.1 1514,1753.7 1501.9,1760.4 1489.7,1767.2 1477.5,1774 1465.4,1780.8 1453.2,1787.7 1441.1,1794.6 1428.9,1801.5 1416.8,1808.4 1404.6,1815.4" fill="#ffa0a0"/>
<line x1="1404.6" y1="1777.5" x2="2121.9" y2="1429.5" stroke="#ff0000" stroke-width="1.9"/>
<rect x="2113.8" y="1272.6" width="16.2" height="16.2" fill="#000"/>
<rect x="1996.1" y="1307.8" width="16.2" height="16.2" fill="#000"/>
<rect x="1797.1" y="1491.2" width="16.2" height="16.2" fill="#000"/>
<rect x="2113.8" y="1492.2" width="16.2" height="16.2" fill="#000"/>
<rect x="1649.8" y="1530.8" width="16.2" height="16.2" fill="#000"/>
<rect x="1687.8" y="1618.2" width="16.2" height="16.2" fill="#000"/>
<rect x="1706.9" y="1615" width="16.2" height="16.2" fill="#000"/>
<rect x="1706.9" y="1637.4" width="16.2" height="16.2" fill="#000"/>
<rect x="1706.9" y="1655.6" width="16.2" height="16.2" fill="#000"/>
<rect x="1683.9" y="1657.7" width="16.2" height="16.2" fill="#000"/>
<rect x="1683.9" y="1670.5" width="16.2" height="16.2" fill="#000"/>
<rect x="1649.8" y="1673.7" width="16.2" height="16.2" fill="#000"/>
<rect x="1595.4" y="1674.7" width="16.2" height="16.2" fill="#000"/>
<rect x="1516.5" y="1655.6" width="16.2" height="16.2" fill="#000"/>
<rect x="1516.5" y="1709.9" width="16.2" height="16.2" fill="#000"/>
<rect x="1516.5" y="1729.9" width="16.2" height="16.2" fill="#000"/>
<rect x="1516.5" y="1742.9" width="16.2" height="16.2" fill="#000"/>
<rect x="1516.5" y="1755.9" width="16.2" height="16.2" fill="#000"/>
<rect x="1550.2" y="1721.6" width="16.2" height="16.2" fill="#000"/>
<rect x="1595.4" y="1724.9" width="16.2" height="16.2" fill="#000"/>
<rect x="1417" y="1709.9" width="16.2" height="16.2" fill="#000"/>
<rect x="1435.5" y="1722.7" width="16.2" height="16.2" fill="#000"/>
<rect x="1447.9" y="1713.1" width="16.2" height="16.2" fill="#000"/>
<rect x="1435.5" y="1729.1" width="16.2" height="16.2" fill="#000"/>
<rect x="1447.9" y="1739.8" width="16.2" height="16.2" fill="#000"/>
<rect x="1396.1" y="1751.5" width="16.2" height="16.2" fill="#000"/>
<rect x="1996.1" y="1584.1" width="16.2" height="16.2" fill="#000"/>
<rect x="2113.8" y="1530.2" width="16.2" height="16.2" fill="#000"/>
<rect x="1699.8" y="1581.4" width="14.3" height="14.3" fill="#fff" stroke="#333" stroke-width="2"/>
<rect x="1674.2" y="1679.9" width="14.3" height="14.3" fill="#fff" stroke="#333" stroke-width="2"/>
<rect x="1556.5" y="1684.2" width="14.3" height="14.3" fill="#fff" stroke="#333" stroke-width="2"/>
<rect x="1571.8" y="1695.9" width="14.3" height="14.3" fill="#fff" stroke="#333" stroke-width="2"/>
<rect x="1612.8" y="1703.4" width="14.3" height="14.3" fill="#fff" stroke="#333" stroke-width="2"/>
<rect x="1486.1" y="1699.1" width="14.3" height="14.3" fill="#fff" stroke="#333" stroke-width="2"/>
<rect x="1632.6" y="1740.8" width="14.3" height="14.3" fill="#fff" stroke="#333" stroke-width="2"/>
<rect x="1453.5" y="1725.3" width="14.3" height="14.3" fill="#fff" stroke="#333" stroke-width="2"/>
<rect x="1854.5" y="1572.9" width="14.3" height="14.3" fill="#fff" stroke="#333" stroke-width="2"/>
</g>
<path d="M1444.1 1910.5v-16M1444.1 1108.5v16M1534.5 1910.5v-8.5M1534.5 1108.5v8.5M1625 1910.5v-16M1625 1108.5v16M1715.5 1910.5v-8.5M1715.5 1108.5v8.5M1806 1910.5v-16M1806 1108.5v16M1896.4 1910.5v-8.5M1896.4 1108.5v8.5M1986.9 1910.5v-16M1986.9 1108.5v16M2077.4 1910.5v-8.5M2077.4 1108.5v8.5M1353.5 1906h16M2149 1906h-16M1353.5 1829.5h8.5M2149 1829.5h-8.5M1353.5 1752.9h16M2149 1752.9h-16M1353.5 1676.4h8.5M2149 1676.4h-8.5M1353.5 1599.8h16M2149 1599.8h-16M1353.5 1523.2h8.5M2149 1523.2h-8.5M1353.5 1446.7h16M2149 1446.7h-16M1353.5 1370.1h8.5M2149 1370.1h-8.5M1353.5 1293.5h16M2149 1293.5h-16M1353.5 1217h8.5M2149 1217h-8.5M1353.5 1140.4h16M2149 1140.4h-16" stroke="#1c1c1c" stroke-width="3.0" fill="none"/>
<rect x="1353.5" y="1108.5" width="795.5" height="802" fill="none" stroke="#1c1c1c" stroke-width="3.0"/>
<text x="1444.1" y="1969.5" font-size="53" font-weight="normal" text-anchor="middle">80</text>
<text x="1625" y="1969.5" font-size="53" font-weight="normal" text-anchor="middle">100</text>
<text x="1806" y="1969.5" font-size="53" font-weight="normal" text-anchor="middle">120</text>
<text x="1986.9" y="1969.5" font-size="53" font-weight="normal" text-anchor="middle">140</text>
<text x="1336.8" y="1921" font-size="53" font-weight="normal" text-anchor="end">40</text>
<text x="1336.8" y="1767.9" font-size="53" font-weight="normal" text-anchor="end">80</text>
<text x="1336.8" y="1614.8" font-size="53" font-weight="normal" text-anchor="end">120</text>
<text x="1336.8" y="1461.7" font-size="53" font-weight="normal" text-anchor="end">160</text>
<text x="1336.8" y="1308.5" font-size="53" font-weight="normal" text-anchor="end">200</text>
<text x="1336.8" y="1155.4" font-size="53" font-weight="normal" text-anchor="end">240</text>
<text x="1751.8" y="2058.3" font-size="62.6" font-weight="normal" text-anchor="middle">DoE model values</text>
<text x="1226" y="1510" font-size="63.5" font-weight="normal" text-anchor="middle" transform="rotate(-90 1226 1510)">Actual values</text>
<text x="1394.8" y="1201.8" font-size="53" font-weight="bold" text-anchor="start">Decomposition interval  [°C]</text>
<text x="1173.4" y="1142.6" font-size="95" font-weight="bold" text-anchor="start">d</text>
<rect x="365.2" y="187.1" width="16.2" height="16.2" fill="#000"/>
<rect x="366.2" y="244.7" width="14.3" height="14.3" fill="#fff" stroke="#333" stroke-width="2"/>
<line x1="326.3" y1="307.2" x2="422" y2="307.2" stroke="#ff2020" stroke-width="2.2"/>
<rect x="332.5" y="344.4" width="85" height="36.2" fill="#ffb4b4" stroke="#dd9a9a" stroke-width="2.4"/>
<rect x="332.5" y="399.8" width="85" height="37.2" fill="#e0e0e0" stroke="#c8c8c8" stroke-width="2.4"/>
<text x="432" y="210.9" font-size="44" font-weight="normal" text-anchor="start">Design points</text>
<text x="433.3" y="266.3" font-size="44" font-weight="normal" text-anchor="start">Confirmation points</text>
<text x="432" y="321.8" font-size="44" font-weight="normal" text-anchor="start">Model</text>
<text x="433.5" y="377.2" font-size="44" font-weight="normal" text-anchor="start">95% CI</text>
<text x="433.5" y="432.7" font-size="44" font-weight="normal" text-anchor="start">95% PI</text>
</svg></body></html>
